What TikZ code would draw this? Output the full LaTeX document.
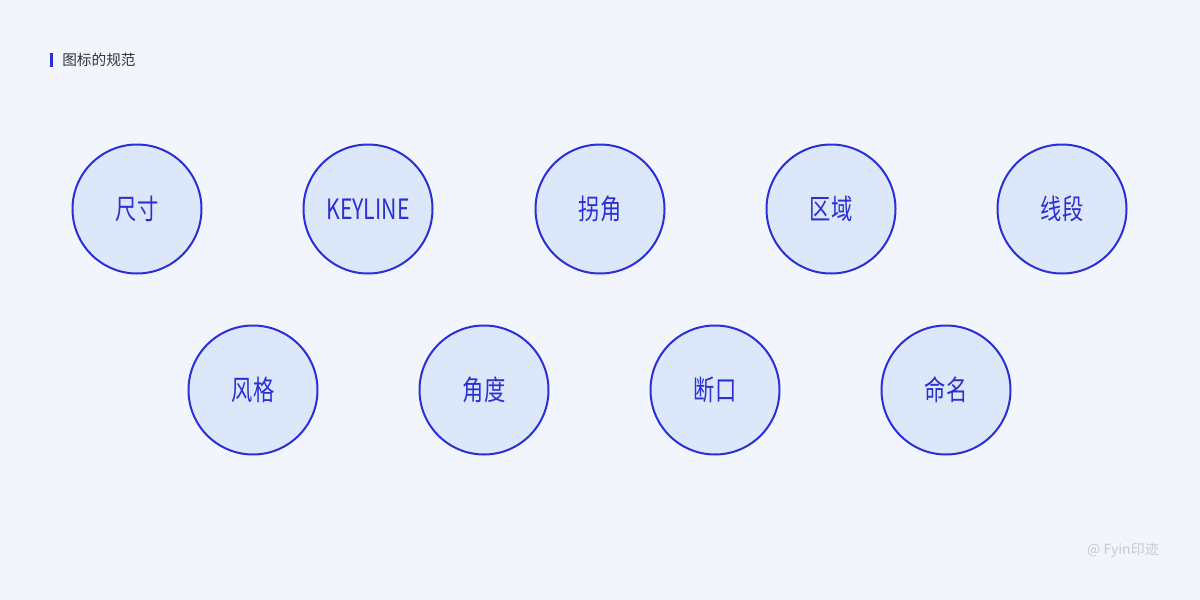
\documentclass[tikz,border=0pt]{standalone}
\usepackage{fontspec}
\newfontfamily\cjk[FakeStretch=0.76]{Noto Sans CJK SC}
\newfontfamily\cjkplain{Noto Sans CJK SC}
\definecolor{bgpage}{RGB}{242,245,252}
\definecolor{ringblue}{RGB}{42,47,214}
\definecolor{ringfill}{RGB}{221,231,250}
\definecolor{titlegray}{RGB}{51,51,51}
\definecolor{markgray}{RGB}{198,202,210}
\tikzset{
  topic/.style={circle, draw=ringblue, fill=ringfill, line width=1.5pt, minimum size=129*0.75pt, inner sep=0pt,
    text=ringblue, font=\cjk\fontsize{21}{21}\selectfont},
}

\begin{document}
\begin{tikzpicture}[x=0.75pt,y=0.75pt,yscale=-1,xscale=1]
%set diagram size to 1200 x 600
\fill[bgpage] (0,0) rectangle (1200,600);
\useasboundingbox (0,0) rectangle (1200,600);

%Shape: Rectangle [title bar]
\fill[ringblue] (50,53) rectangle (53,67);
% Text Node
\node (title) [anchor=west, inner sep=0.75pt, text=titlegray, font=\cjkplain\fontsize{11}{11}\selectfont] at (61,60) {图标的规范};

%Shape: Circle [row 1]
\node (size) [topic] at (137,209) {尺寸};
\node (keyline) [topic] at (368,209) {KEYLINE};
\node (corner) [topic] at (600,209) {拐角};
\node (area) [topic] at (831,209) {区域};
\node (stroke) [topic] at (1062,209) {线段};

%Shape: Circle [row 2]
\node (style) [topic] at (253,390) {风格};
\node (angle) [topic] at (484,390) {角度};
\node (gap) [topic] at (715,390) {断口};
\node (naming) [topic] at (946,390) {命名};

% Text Node
\node (mark) [anchor=east, inner sep=0.75pt, text=markgray, font=\cjkplain\fontsize{10.5}{10.5}\selectfont] at (1160,550) {@ Fyin印迹};

\end{tikzpicture}
\end{document}
